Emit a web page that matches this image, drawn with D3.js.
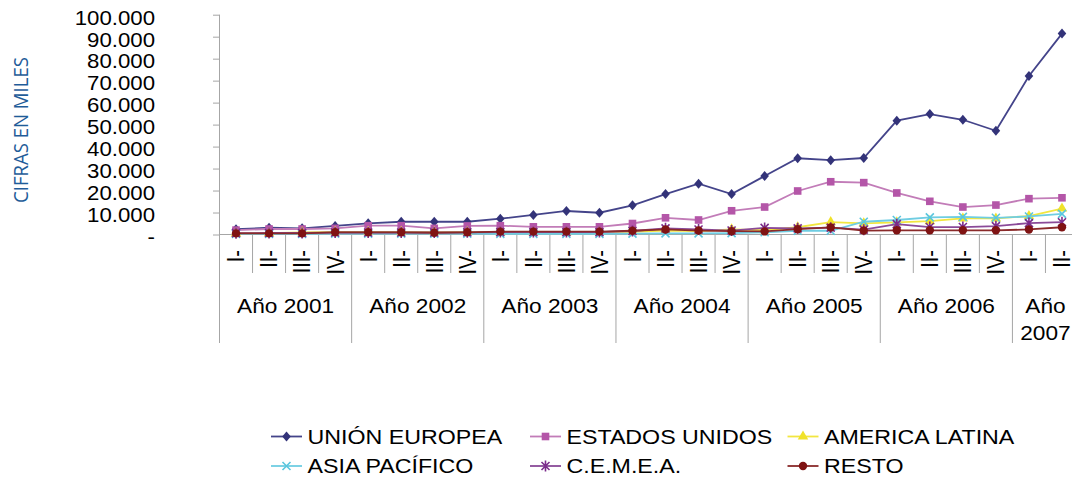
<!DOCTYPE html>
<html><head><meta charset="utf-8">
<script src="https://cdn.jsdelivr.net/npm/d3@7"></script>
<style>html,body{margin:0;padding:0;background:#fff;overflow:hidden}</style>
</head><body>
<script>
// ---------- DATA ----------
const years = ["Año 2001","Año 2002","Año 2003","Año 2004","Año 2005","Año 2006","Año 2007"];
const quarterLabels = ["I-","II-","III-","IV-"];
const quartersPerYear = [4,4,4,4,4,4,2];
const yTicks = [0,10000,20000,30000,40000,50000,60000,70000,80000,90000,100000];
const yTitle = "CIFRAS EN MILES";

const seriesNames = ["UNIÓN EUROPEA","ESTADOS UNIDOS","AMERICA LATINA","ASIA PACÍFICO","C.E.M.E.A.","RESTO"];
const unionEuropea   = [2400,3100,2800,3900, 5100,5800,5800,5800, 7200,8900,10700,9900, 13300,18400,23100,18400, 26600,34700,33800,34800, 51800,54800,52200,47200, 72100,91400];
const estadosUnidos  = [2000,2500,2500,2800, 4000,4000,2800,3900, 4000,3500,3500,3500, 5000,7600,6600,10800, 12500,19800,24000,23600, 18900,15100,12500,13400, 16300,16700];
const americaLatina  = [500,600,1000,1200, 1200,1200,1100,1200, 1000,1000,1000,1100, 1200,1800,1500,2300, 2000,3300,5600,5100, 5500,6100,7300,7300, 8400,11800];
const asiaPacifico   = [300,300,300,400, 400,400,400,400, 300,300,300,300, 400,500,500,600, 1000,1700,1700,5800, 6600,7800,8000,7600, 8200,9400];
const cemea          = [600,700,700,900, 900,900,900,1000, 1100,1100,1100,1100, 1600,2800,2300,1800, 3000,2800,3100,2200, 4700,3400,3400,3800, 5200,5600];
const resto          = [500,500,500,1000, 1000,1000,800,1000, 1300,1300,1300,1300, 1700,2300,1800,1500, 1400,2400,3200,1800, 1900,1900,1900,1900, 2300,3300];

const seriesValues = [unionEuropea, estadosUnidos, americaLatina, asiaPacifico, cemea, resto];
const seriesColors = ["#333379","#b456a8","#f0e22a","#5ac6dd","#7b2b8b","#7f1313"];
const lineColors   = ["#44448a","#c27cb8","#f2e640","#6fcde2","#8a4a98","#8a2a2a"];
const seriesMarkers = ["diamond","square","triangle","x","star","circle"];

// ---------- BUILD ----------
const categories = [];
years.forEach((yr,i)=>{ for(let q=0;q<quartersPerYear[i];q++) categories.push({key:yr+"|"+q, year:yr, q:quarterLabels[q]}); });

const W=1072,H=481;
const svg = d3.select("body").append("svg").attr("width",W).attr("height",H)
  .style("font-family","'Liberation Sans', Arial, sans-serif");

const x = d3.scaleBand().domain(categories.map(d=>d.key)).range([219.5,1078.5]).padding(0);
const y = d3.scaleLinear().domain([0,100000]).range([234.5,14.7]);
const grey = "#a6a6a6";

const loc = d3.formatLocale({decimal:",",thousands:".",grouping:[3],currency:["",""]});
const fmt = v => v===0 ? "-" : loc.format(",.0f")(v);

// Y axis
const gy = svg.append("g").attr("transform","translate(219.5,0)")
  .call(d3.axisLeft(y).tickValues(yTicks).tickSize(6).tickFormat(fmt));
gy.select(".domain").remove();
gy.selectAll(".tick line").attr("stroke",grey).attr("x2",-6.5);
gy.selectAll(".tick text")
  .attr("x",0).attr("dy","0.35em").attr("fill","#000")
  .style("font-size","19.5px").style("font-family","'Liberation Sans', Arial, sans-serif")
  .attr("text-anchor","end")
  .attr("transform","translate(-64.5,2.5) scale(1.14,1)");
svg.append("line").attr("x1",219.5).attr("x2",219.5).attr("y1",y(100000)).attr("y2",343).attr("stroke",grey);

// Y title
svg.append("text").text(yTitle)
  .attr("transform","translate(28.3,130) rotate(-90) scale(1,1.3)")
  .attr("text-anchor","middle").attr("fill","#1f5c99")
  .attr("textLength",146).attr("lengthAdjust","spacingAndGlyphs")
  .style("font-family","'Open Sans', sans-serif").style("font-size","16px");

// X axis
const gx = svg.append("g").attr("transform",`translate(0,${y(0)})`)
  .call(d3.axisBottom(x).tickSize(0).tickFormat(k=>categories.find(c=>c.key===k).q));
gx.select(".domain").attr("stroke",grey).attr("d",`M${x.range()[0]},0H${x.range()[1]}`);
gx.selectAll(".tick text")
  .attr("y",0).attr("dy",0).attr("text-anchor","end").attr("fill","#000")
  .style("font-size","20px").style("font-family","'Liberation Sans', Arial, sans-serif")
  .attr("transform","translate(8.4,15.5) rotate(-90) scale(1,1.17)");

// category separators
let idx=0; const yearBounds=new Set();
quartersPerYear.forEach(n=>{ idx+=n; yearBounds.add(idx); });
categories.forEach((c,i)=>{
  if(i===0) return;
  const bx = x(c.key);
  svg.append("line").attr("x1",bx).attr("x2",bx).attr("y1",y(0)).attr("y2",yearBounds.has(i)?343:273).attr("stroke",grey);
});
{ const bx = x.range()[1];
  svg.append("line").attr("x1",bx).attr("x2",bx).attr("y1",y(0)).attr("y2",343).attr("stroke",grey); }

// Year labels
years.forEach((yr,i)=>{
  const cats = categories.filter(c=>c.year===yr);
  const cx = (x(cats[0].key) + x(cats[cats.length-1].key) + x.bandwidth())/2;
  const t = svg.append("text").attr("transform",`translate(${cx},0) scale(1.08,1)`)
    .attr("text-anchor","middle").style("font-size","21px").attr("fill","#000");
  if(cats.length<3){
    yr.split(" ").forEach((w,j)=> t.append("tspan").attr("x",0).attr("y",313.5+j*26.8).text(w));
  } else {
    t.append("tspan").attr("x",0).attr("y",313.5).text(yr);
  }
});

// markers
function marker(g, type, color, px, py){
  if(type==="diamond") g.append("path").attr("d","M0,-5L4.3,0L0,5L-4.3,0Z").attr("transform",`translate(${px},${py})`).attr("fill",color);
  else if(type==="square") g.append("rect").attr("x",px-3.8).attr("y",py-3.8).attr("width",7.6).attr("height",7.6).attr("fill",color);
  else if(type==="triangle") g.append("path").attr("d",d3.symbol(d3.symbolTriangle,48)()).attr("transform",`translate(${px},${py})`).attr("fill",color);
  else if(type==="x") g.append("path").attr("d","M-4,-4L4,4M-4,4L4,-4").attr("transform",`translate(${px},${py})`).attr("stroke",color).attr("stroke-width",1.6).attr("fill","none");
  else if(type==="star") g.append("path").attr("d","M-4,-4L4,4M-4,4L4,-4M0,-5.5L0,5.5").attr("transform",`translate(${px},${py})`).attr("stroke",color).attr("stroke-width",1.6).attr("fill","none");
  else if(type==="circle") g.append("circle").attr("cx",px).attr("cy",py).attr("r",4.2).attr("fill",color);
}

const cx = k => x(k)+x.bandwidth()/2;
const lineGen = d3.line().x((d,i)=>cx(categories[i].key)).y(d=>y(d));
seriesValues.forEach((vals,s)=>{
  const g = svg.append("g");
  g.append("path").datum(vals).attr("d",lineGen).attr("fill","none").attr("stroke",lineColors[s]).attr("stroke-width",1.8);
  vals.forEach((v,i)=> marker(g, seriesMarkers[s], seriesColors[s], cx(categories[i].key), y(v)));
});

// Legend
const legX = [271,530,787.5];
const legY = [436.5,466];
seriesNames.forEach((n,i)=>{
  const col=i%3, row=Math.floor(i/3);
  const g = svg.append("g");
  const lx=legX[col], ly=legY[row];
  g.append("line").attr("x1",lx).attr("x2",lx+31).attr("y1",ly).attr("y2",ly).attr("stroke",lineColors[i]).attr("stroke-width",1.8);
  marker(g, seriesMarkers[i], seriesColors[i], lx+15.5, ly);
  g.append("text").text(n).attr("transform",`translate(${lx+36.5},${ly+7}) scale(1.19,1)`)
    .style("font-size","19.5px").attr("fill","#000");
});
</script>
</body></html>
